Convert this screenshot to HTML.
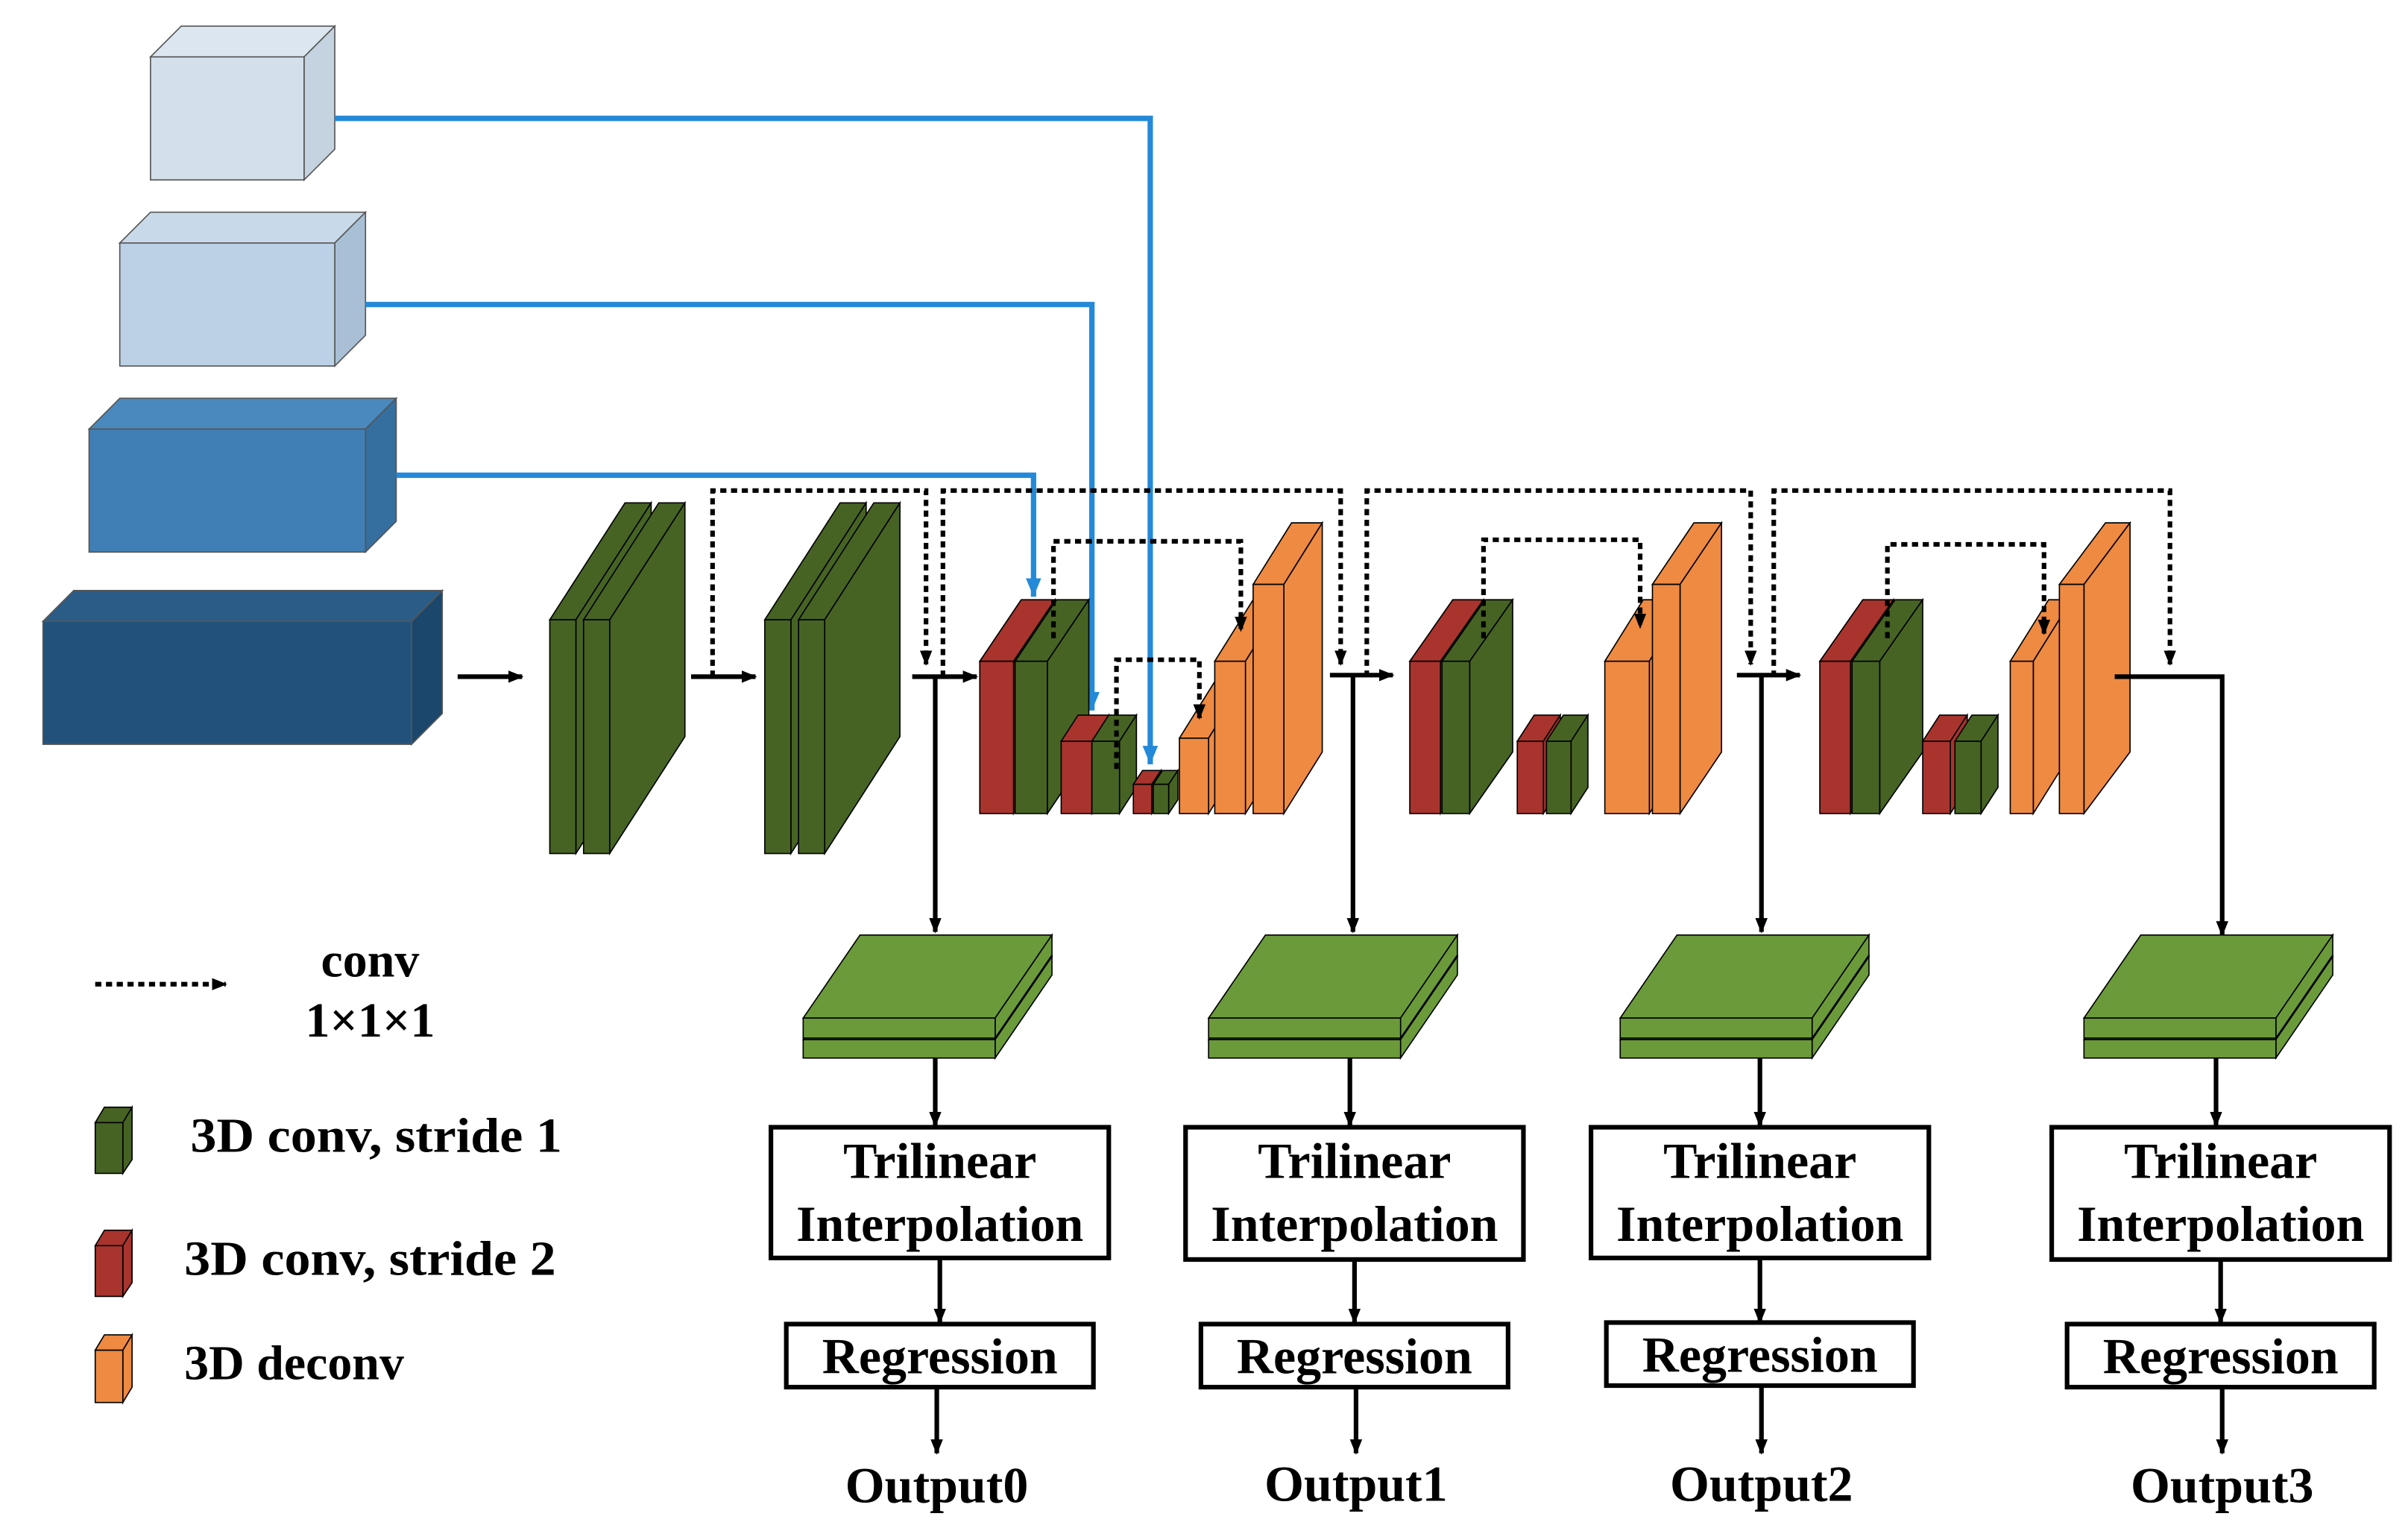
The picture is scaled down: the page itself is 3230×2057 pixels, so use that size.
<!DOCTYPE html>
<html><head><meta charset="utf-8"><style>
html,body{margin:0;padding:0;background:#fff;}
svg{display:block;}
text{font-family:"Liberation Serif",serif;font-weight:bold;fill:#000;}
</style></head><body>
<svg width="3230" height="2057" viewBox="0 0 1568 997.5" preserveAspectRatio="none" xmlns="http://www.w3.org/2000/svg">
<defs>
<marker id="ab" markerWidth="10" markerHeight="8" refX="9" refY="4" orient="auto" markerUnits="userSpaceOnUse"><path d="M0,0 L10,4 L0,8 z" fill="#000"/></marker>
<marker id="abl" markerWidth="12" markerHeight="10" refX="12" refY="5" orient="auto" markerUnits="userSpaceOnUse"><path d="M0,0 L12,5 L0,10 z" fill="#2389d8"/></marker>
<g id="plate" stroke="#000" stroke-width="0.8" fill="#6b9a3a">
<polygon points="0,676 125,676 162,622 37,622"/>
<polygon points="125,676 162,622 162,634 125,688"/>
<rect x="0" y="676" width="125" height="12"/>
<polygon points="0,662 125,662 162,608 37,608"/>
<polygon points="125,662 162,608 162,621 125,675"/>
<rect x="0" y="662" width="125" height="13"/>
</g>
<g id="slabs" stroke="#000" stroke-width="0.8" fill="#466323">
<polygon points="358,403 375,403 424,327 407,327"/>
<polygon points="375,403 424,327 424,479 375,555"/>
<rect x="358" y="403" width="17" height="152"/>
<polygon points="380,403 397,403 446,327 429,327"/>
<polygon points="397,403 446,327 446,479 397,555"/>
<rect x="380" y="403" width="17" height="152"/>
</g>
</defs>

<g stroke="#555" stroke-width="0.8">
<polygon points="98,37 198,37 218,17 118,17" fill="#dce6f0"/>
<polygon points="198,37 218,17 218,97 198,117" fill="#c5d3e0"/>
<rect x="98" y="37" width="100" height="80" fill="#d3e0ec"/>
<polygon points="78,158 218,158 238,138 98,138" fill="#c8d9ea"/>
<polygon points="218,158 238,138 238,218 218,238" fill="#a9bfd6"/>
<rect x="78" y="158" width="140" height="80" fill="#bcd1e6"/>
<polygon points="58,279 238,279 258,259 78,259" fill="#4a89bd"/>
<polygon points="238,279 258,259 258,339 238,359" fill="#346fa0"/>
<rect x="58" y="279" width="180" height="80" fill="#3f7fb5"/>
<polygon points="28,404 268,404 288,384 48,384" fill="#2a5c87"/>
<polygon points="268,404 288,384 288,464 268,484" fill="#1c476c"/>
<rect x="28" y="404" width="240" height="80" fill="#22527b"/>
</g>

<g stroke="#2389d8" stroke-width="3.5" fill="none">
<polyline points="218,77 749,77 749,497" marker-end="url(#abl)"/>
<polyline points="238,198 711,198 711,462" marker-end="url(#abl)"/>
<polyline points="258,309 673,309 673,388" marker-end="url(#abl)"/>
</g>

<use href="#slabs"/>
<use href="#slabs" transform="translate(140,0)"/>

<g stroke="#000" stroke-width="0.8">
<g fill="#a8342d"><polygon points="638,430 660,430 687,390 665,390"/><polygon points="660,430 687,390 687,489 660,529"/><rect x="638" y="430" width="22" height="99"/></g>
<g fill="#466323"><polygon points="661,430 682,430 709,390 688,390"/><polygon points="682,430 709,390 709,489 682,529"/><rect x="661" y="430" width="21" height="99"/></g>
<g fill="#a8342d"><polygon points="691,482 711,482 722,465 702,465"/><polygon points="711,482 722,465 722,512 711,529"/><rect x="691" y="482" width="20" height="47"/></g>
<g fill="#466323"><polygon points="711,482 729,482 740,465 722,465"/><polygon points="729,482 740,465 740,512 729,529"/><rect x="711" y="482" width="18" height="47"/></g>
<g fill="#a8342d"><polygon points="738,510 750,510 756,501 744,501"/><polygon points="750,510 756,501 756,520 750,529"/><rect x="738" y="510" width="12" height="19"/></g>
<g fill="#466323"><polygon points="751,510 761,510 767,501 757,501"/><polygon points="761,510 767,501 767,520 761,529"/><rect x="751" y="510" width="10" height="19"/></g>
<g fill="#ee8a42"><polygon points="768,480 787,480 812,440 793,440"/><polygon points="787,480 812,440 812,489 787,529"/><rect x="768" y="480" width="19" height="49"/></g>
<g fill="#ee8a42"><polygon points="791,430 811,430 836,390 816,390"/><polygon points="811,430 836,390 836,489 811,529"/><rect x="791" y="430" width="20" height="99"/></g>
<g fill="#ee8a42"><polygon points="816,380 836,380 861,340 841,340"/><polygon points="836,380 861,340 861,489 836,529"/><rect x="816" y="380" width="20" height="149"/></g>
<g fill="#a8342d"><polygon points="918,430 938,430 966,390 946,390"/><polygon points="938,430 966,390 966,489 938,529"/><rect x="918" y="430" width="20" height="99"/></g>
<g fill="#466323"><polygon points="939,430 957,430 985,390 967,390"/><polygon points="957,430 985,390 985,489 957,529"/><rect x="939" y="430" width="18" height="99"/></g>
<g fill="#a8342d"><polygon points="988,482 1005,482 1016,465 999,465"/><polygon points="1005,482 1016,465 1016,512 1005,529"/><rect x="988" y="482" width="17" height="47"/></g>
<g fill="#466323"><polygon points="1007,482 1023,482 1034,465 1018,465"/><polygon points="1023,482 1034,465 1034,512 1023,529"/><rect x="1007" y="482" width="16" height="47"/></g>
<g fill="#ee8a42"><polygon points="1045,430 1074,430 1099,390 1070,390"/><polygon points="1074,430 1099,390 1099,489 1074,529"/><rect x="1045" y="430" width="29" height="99"/></g>
<g fill="#ee8a42"><polygon points="1076,380 1094,380 1121,340 1103,340"/><polygon points="1094,380 1121,340 1121,489 1094,529"/><rect x="1076" y="380" width="18" height="149"/></g>
<g fill="#a8342d"><polygon points="1185,430 1205,430 1233,390 1213,390"/><polygon points="1205,430 1233,390 1233,489 1205,529"/><rect x="1185" y="430" width="20" height="99"/></g>
<g fill="#466323"><polygon points="1206,430 1224,430 1252,390 1234,390"/><polygon points="1224,430 1252,390 1252,489 1224,529"/><rect x="1206" y="430" width="18" height="99"/></g>
<g fill="#a8342d"><polygon points="1252,482 1270,482 1281,465 1263,465"/><polygon points="1270,482 1281,465 1281,512 1270,529"/><rect x="1252" y="482" width="18" height="47"/></g>
<g fill="#466323"><polygon points="1273,482 1290,482 1301,465 1284,465"/><polygon points="1290,482 1301,465 1301,512 1290,529"/><rect x="1273" y="482" width="17" height="47"/></g>
<g fill="#ee8a42"><polygon points="1309,430 1324,430 1349,390 1334,390"/><polygon points="1324,430 1349,390 1349,489 1324,529"/><rect x="1309" y="430" width="15" height="99"/></g>
<g fill="#ee8a42"><polygon points="1341,380 1357,380 1387,340 1371,340"/><polygon points="1357,380 1387,340 1387,489 1357,529"/><rect x="1341" y="380" width="16" height="149"/></g>
</g>

<g stroke="#000" stroke-width="3" fill="none" stroke-dasharray="4 3">
<polyline points="464,440 464,319 603,319 603,432" marker-end="url(#ab)"/>
<polyline points="614,440 614,319 873,319 873,432" marker-end="url(#ab)"/>
<polyline points="890,440 890,319 1140,319 1140,432" marker-end="url(#ab)"/>
<polyline points="1155,440 1155,319 1413,319 1413,432" marker-end="url(#ab)"/>
<polyline points="686,415 686,352 808,352 808,410" marker-end="url(#ab)"/>
<polyline points="727,500 727,429 781,429 781,467" marker-end="url(#ab)"/>
<polyline points="966,415 966,351 1068,351 1068,408" marker-end="url(#ab)"/>
<polyline points="1229,415 1229,354 1331,354 1331,412" marker-end="url(#ab)"/>
<polyline points="62,640 147,640" marker-end="url(#ab)"/>
</g>

<g stroke="#000" stroke-width="3" fill="none">
<line x1="298" y1="440" x2="340" y2="440" marker-end="url(#ab)"/>
<line x1="450" y1="440" x2="492" y2="440" marker-end="url(#ab)"/>
<line x1="594" y1="440" x2="636" y2="440" marker-end="url(#ab)"/>
<line x1="866" y1="439" x2="907" y2="439" marker-end="url(#ab)"/>
<line x1="1131" y1="439" x2="1172" y2="439" marker-end="url(#ab)"/>
<line x1="609" y1="440" x2="609" y2="606" marker-end="url(#ab)"/>
<line x1="881" y1="439" x2="881" y2="606" marker-end="url(#ab)"/>
<line x1="1147" y1="439" x2="1147" y2="606" marker-end="url(#ab)"/>
<polyline points="1377,440 1447,440 1447,608" marker-end="url(#ab)"/>
<line x1="609" y1="688" x2="609" y2="732" marker-end="url(#ab)"/>
<line x1="879" y1="688" x2="879" y2="732" marker-end="url(#ab)"/>
<line x1="1146" y1="688" x2="1146" y2="732" marker-end="url(#ab)"/>
<line x1="1443" y1="688" x2="1443" y2="732" marker-end="url(#ab)"/>
<line x1="612" y1="818" x2="612" y2="860" marker-end="url(#ab)"/>
<line x1="882" y1="818" x2="882" y2="860" marker-end="url(#ab)"/>
<line x1="1146" y1="818" x2="1146" y2="860" marker-end="url(#ab)"/>
<line x1="1446" y1="818" x2="1446" y2="860" marker-end="url(#ab)"/>
<line x1="610" y1="902" x2="610" y2="945" marker-end="url(#ab)"/>
<line x1="883" y1="902" x2="883" y2="945" marker-end="url(#ab)"/>
<line x1="1147" y1="902" x2="1147" y2="945" marker-end="url(#ab)"/>
<line x1="1447" y1="902" x2="1447" y2="945" marker-end="url(#ab)"/>
</g>

<use href="#plate" transform="translate(523,0)"/>
<use href="#plate" transform="translate(787,0)"/>
<use href="#plate" transform="translate(1055,0)"/>
<use href="#plate" transform="translate(1357,0)"/>

<g stroke="#000" stroke-width="3" fill="#fff">
<rect x="502" y="733" width="220" height="85"/>
<rect x="772" y="733" width="220" height="86"/>
<rect x="1036" y="733" width="220" height="85"/>
<rect x="1336" y="733" width="220" height="86"/>
<rect x="512" y="861" width="200" height="41"/>
<rect x="782" y="861" width="200" height="41"/>
<rect x="1046" y="860" width="200" height="41"/>
<rect x="1346" y="861" width="200" height="41"/>
</g>
<g font-size="33" text-anchor="middle">
<text x="612" y="766">Trilinear</text><text x="612" y="807">Interpolation</text>
<text x="882" y="766">Trilinear</text><text x="882" y="807">Interpolation</text>
<text x="1146" y="766">Trilinear</text><text x="1146" y="807">Interpolation</text>
<text x="1446" y="766">Trilinear</text><text x="1446" y="807">Interpolation</text>
<text x="612" y="893">Regression</text>
<text x="882" y="893">Regression</text>
<text x="1146" y="892">Regression</text>
<text x="1446" y="893">Regression</text>
<text x="610" y="977">Output0</text>
<text x="883" y="976">Output1</text>
<text x="1147" y="976">Output2</text>
<text x="1447" y="977">Output3</text>
</g>

<g font-size="32">
<text x="241" y="635" text-anchor="middle">conv</text>
<text x="241" y="674" text-anchor="middle">1×1×1</text>
<text x="124" y="749" textLength="242" lengthAdjust="spacingAndGlyphs">3D conv, stride 1</text>
<text x="120" y="829" textLength="242" lengthAdjust="spacingAndGlyphs">3D conv, stride 2</text>
<text x="120" y="897">3D deconv</text>
</g>
<g stroke="#000" stroke-width="0.8">
<g fill="#466323"><polygon points="62,730 80,730 86,720 68,720"/><polygon points="80,730 86,720 86,754 80,763"/><rect x="62" y="730" width="18" height="33"/></g>
<g fill="#a8342d"><polygon points="62,810 80,810 86,800 68,800"/><polygon points="80,810 86,800 86,834 80,843"/><rect x="62" y="810" width="18" height="33"/></g>
<g fill="#ee8a42"><polygon points="62,878 80,878 86,868 68,868"/><polygon points="80,878 86,868 86,902 80,912"/><rect x="62" y="878" width="18" height="34"/></g>
</g>
</svg>
</body></html>
